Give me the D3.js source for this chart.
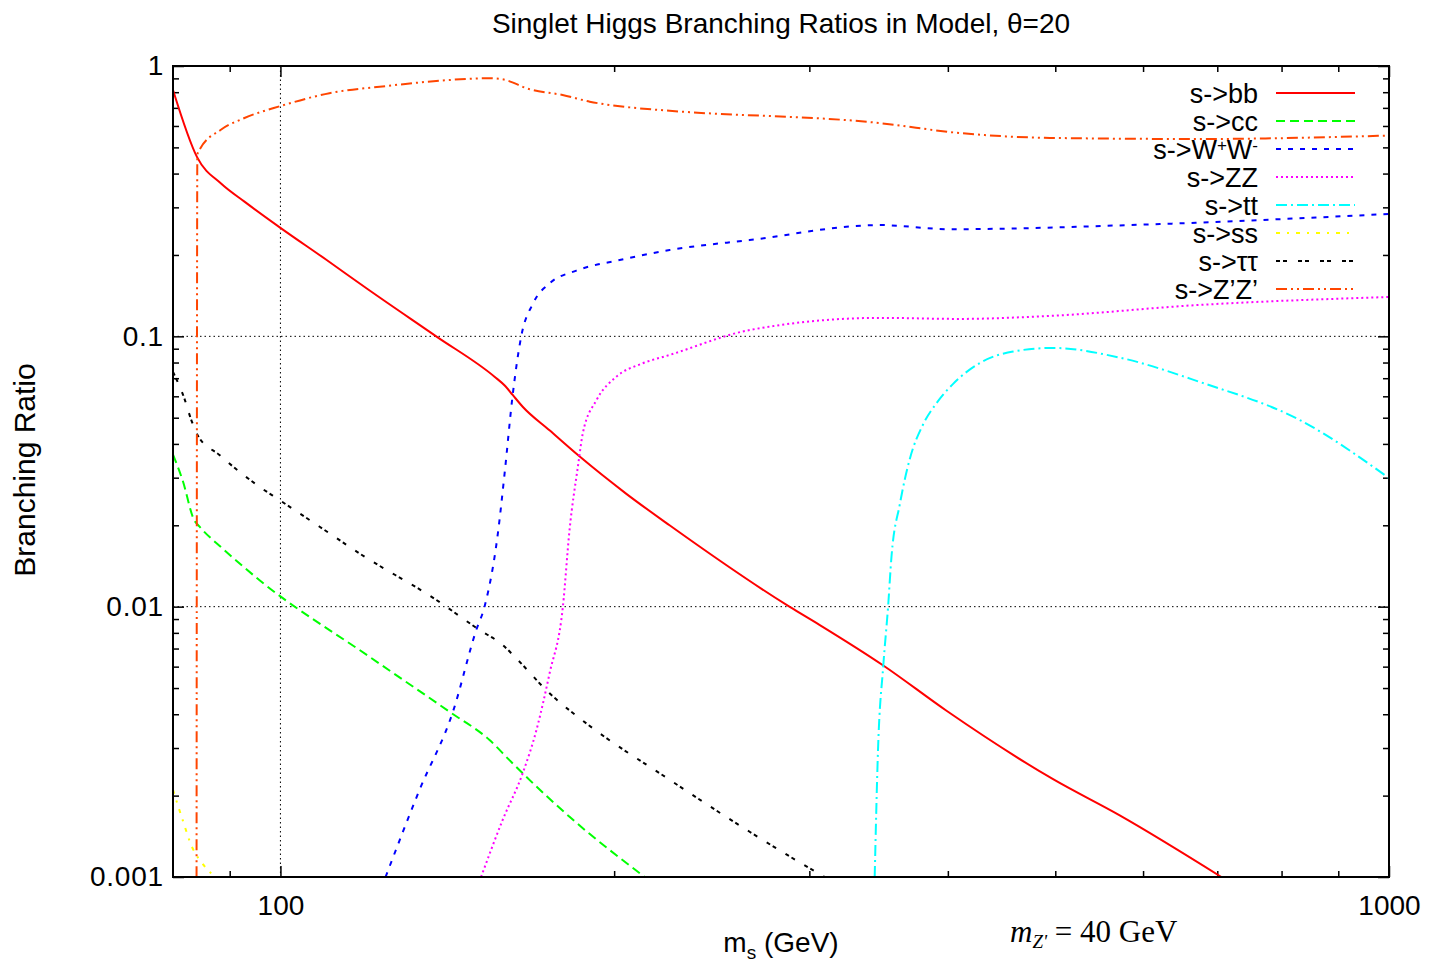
<!DOCTYPE html>
<html><head><meta charset="utf-8">
<script src="https://cdn.jsdelivr.net/npm/d3@7"></script>
<style>body{margin:0;background:#fff}svg{display:block}</style>
</head><body><svg id="c" width="1431" height="965"></svg>
<script>
// ---------- data ----------
const xTickValues = [100, 1000];
const xTickLabels = ["100", "1000"];
const xMinorTicks = [90, 200, 300, 400, 500, 600, 700, 800, 900];
const yTickValues = [0.001, 0.01, 0.1, 1];
const yTickLabels = ["0.001", "0.01", "0.1", "1"];
const yMinorTicks = [2,3,4,5,6,7,8,9].flatMap(k => [k*0.001, k*0.01, k*0.1]);
const seriesLabels = ["s->bb", "s->cc", "s->W+W-", "s->ZZ", "s->tt", "s->ss", "s->ττ", "s->Z’Z’"];

const bb = [[80,0.815],[84.1,0.46],[88.5,0.366],[92.8,0.315],[100,0.252],[110,0.192],[120,0.149],[138.2,0.1],[156,0.0709],[159.5,0.0655],[162,0.0607],[165.4,0.0549],[175,0.0448],[186.2,0.0359],[205,0.0262],[224.4,0.02],[287.8,0.01],[306.6,0.00855],[349.8,0.00606],[398.9,0.00412],[497.7,0.0023],[571.6,0.00169],[706,0.001]];
const cc = [[80,0.0365],[81.6,0.0294],[83.6,0.0209],[84.5,0.0198],[88.7,0.0164],[95.7,0.01255],[120.3,0.00653],[142,0.00409],[154.4,0.00321],[161,0.0027],[166.6,0.00235],[182.3,0.00167],[213.1,0.001]];
const ww = [[124.4,0.001],[133.5,0.0021],[143.1,0.00409],[150.2,0.0082],[152.8,0.01],[157.1,0.0187],[159.3,0.0311],[162,0.0607],[164.9,0.1],[169,0.1324],[174.9,0.157],[184.9,0.175],[202.3,0.1915],[224.4,0.2086],[265,0.227],[347.2,0.258],[401.6,0.249],[583.8,0.258],[1000,0.2835]];
const zz = [[151.7,0.001],[158.7,0.00163],[165.4,0.00242],[170.2,0.0035],[174.9,0.00567],[179.8,0.01],[182.3,0.0192],[185.5,0.033],[187.4,0.0438],[192.8,0.0581],[200.9,0.0709],[212.3,0.0795],[224.4,0.0853],[265,0.1055],[347.2,0.117],[410,0.116],[494,0.119],[671,0.1305],[1000,0.1398]];
const tt = [[343.6,0.001],[346,0.00297],[349.8,0.00606],[353.3,0.01],[355.8,0.0153],[362,0.0239],[369.6,0.0352],[380,0.0473],[390.7,0.0566],[404.4,0.0667],[427.5,0.0797],[458.1,0.0879],[497.7,0.0906],[571.6,0.0834],[675,0.0678],[831,0.049],[1000,0.0299]];
const ss = [[80,0.0021],[81.6,0.00163],[83.3,0.00128],[84.5,0.00116],[86.6,0.00103],[88,0.00095]];
const tautau = [[80,0.0738],[81.9,0.059],[83.1,0.049],[84.2,0.0431],[88.1,0.0364],[91.8,0.0316],[95.7,0.0278],[99.8,0.0248],[108.4,0.0198],[117.8,0.01575],[138.2,0.0106],[151.2,0.0082],[158.7,0.00721],[163.2,0.00644],[174.9,0.00478],[188.8,0.0037],[224.4,0.00229],[265,0.00147],[302.2,0.00106],[309.7,0.001]];
const zpzp = [[84.0,0.0005],[84.15,0.47],[84.5,0.489],[88.3,0.58],[92.8,0.642],[100,0.711],[110.7,0.793],[124.6,0.843],[138.2,0.88],[154.4,0.901],[158.6,0.893],[167.8,0.82],[179.7,0.781],[190.1,0.738],[206.6,0.703],[224.4,0.683],[347.2,0.615],[410,0.565],[494.3,0.542],[675,0.537],[1000,0.553]];

// ---------- layout ----------
const L = 173, R = 1389, T = 66, B = 877;
const FONT = "'Liberation Sans', Arial, Helvetica, sans-serif";
const svg = d3.select("#c");
const x = d3.scaleLog().domain([80, 1000]).range([L, R]);
const y = d3.scaleLog().domain([0.001, 1]).range([B, T]);

const styles = [
  {data: bb, color: "#ff0000", dash: null},
  {data: cc, color: "#00ff00", dash: "9,5"},
  {data: ww, color: "#0000ff", dash: "5,7"},
  {data: zz, color: "#ff00ff", dash: "2,3"},
  {data: tt, color: "#00ffff", dash: "11,4,2,4"},
  {data: ss, color: "#ffff00", dash: "4,7,2,7"},
  {data: tautau, color: "#000000", dash: "4,3,4,11"},
  {data: zpzp, color: "#ff4500", dash: "11,4,2,4,2,4"}
];

svg.append("defs").append("clipPath").attr("id","clip")
  .append("rect").attr("x",L).attr("y",T).attr("width",R-L).attr("height",B-T);

// grid
const grid = svg.append("g").attr("stroke","#000").attr("stroke-width",1).attr("stroke-dasharray","1.5,3");
[100].forEach(v => grid.append("line").attr("x1",x(v)).attr("x2",x(v)).attr("y1",T).attr("y2",B));
[0.1, 0.01].forEach(v => grid.append("line").attr("x1",L).attr("x2",R).attr("y1",y(v)).attr("y2",y(v)));

// axes (ticks inward)
function styleAxis(g){
  g.select(".domain").remove();
  g.selectAll("line").attr("stroke","#000").attr("stroke-width",1.5);
  g.selectAll("text").attr("font-family",FONT).attr("font-size",28).attr("fill","#000");
}
const fmtX = d => xTickLabels[xTickValues.indexOf(d)];
const fmtY = d => yTickLabels[yTickValues.indexOf(d)];

svg.append("g").attr("transform",`translate(0,${B})`)
  .call(d3.axisBottom(x).tickValues(xTickValues).tickFormat(fmtX).tickSizeInner(-11).tickSizeOuter(0).tickPadding(18))
  .call(styleAxis).call(g=>g.selectAll("text").attr("y",18));
svg.append("g").attr("transform",`translate(0,${B})`)
  .call(d3.axisBottom(x).tickValues(xMinorTicks).tickFormat("").tickSizeInner(-6).tickSizeOuter(0)).call(styleAxis);
svg.append("g").attr("transform",`translate(0,${T})`)
  .call(d3.axisTop(x).tickValues(xTickValues).tickFormat("").tickSizeInner(-11).tickSizeOuter(0)).call(styleAxis);
svg.append("g").attr("transform",`translate(0,${T})`)
  .call(d3.axisTop(x).tickValues(xMinorTicks).tickFormat("").tickSizeInner(-6).tickSizeOuter(0)).call(styleAxis);
svg.append("g").attr("transform",`translate(${L},0)`)
  .call(d3.axisLeft(y).tickValues(yTickValues).tickFormat(fmtY).tickSizeInner(-11).tickSizeOuter(0).tickPadding(9))
  .call(styleAxis).call(g=>g.selectAll("text").attr("x",-9).attr("letter-spacing",0.8));
svg.append("g").attr("transform",`translate(${L},0)`)
  .call(d3.axisLeft(y).tickValues(yMinorTicks).tickFormat("").tickSizeInner(-6).tickSizeOuter(0)).call(styleAxis);
svg.append("g").attr("transform",`translate(${R},0)`)
  .call(d3.axisRight(y).tickValues(yTickValues).tickFormat("").tickSizeInner(-11).tickSizeOuter(0)).call(styleAxis);
svg.append("g").attr("transform",`translate(${R},0)`)
  .call(d3.axisRight(y).tickValues(yMinorTicks).tickFormat("").tickSizeInner(-6).tickSizeOuter(0)).call(styleAxis);

// curves
const line = d3.line().x(d => x(d[0])).y(d => y(d[1])).curve(d3.curveMonotoneX);
const curves = svg.append("g").attr("clip-path","url(#clip)");
styles.forEach(s => {
  curves.append("path").attr("d", line(s.data)).attr("fill","none")
    .attr("stroke", s.color).attr("stroke-width", 2)
    .attr("stroke-dasharray", s.dash);
});

// frame
svg.append("rect").attr("x",L).attr("y",T).attr("width",R-L).attr("height",B-T)
  .attr("fill","none").attr("stroke","#000").attr("stroke-width",2);

// legend
const leg = svg.append("g");
styles.forEach((s,i) => {
  const yy = 93 + i*28;
  const t = leg.append("text").attr("x",1258).attr("y",yy).attr("dy","0.36em")
    .attr("text-anchor","end").attr("font-family",FONT).attr("font-size",27).attr("fill","#000");
  if (i === 2) {
    t.append("tspan").text("s->W");
    t.append("tspan").attr("font-size",17).attr("dy",-8).text("+");
    t.append("tspan").attr("dy",8).text("W");
    t.append("tspan").attr("font-size",17).attr("dy",-8).text("-");
  } else {
    t.text(seriesLabels[i]);
  }
  leg.append("line").attr("x1",1276).attr("x2",1355).attr("y1",yy).attr("y2",yy)
    .attr("stroke",s.color).attr("stroke-width",2).attr("stroke-dasharray",s.dash);
});

// titles
svg.append("text").attr("x",781).attr("y",33).attr("text-anchor","middle")
  .attr("font-family",FONT).attr("font-size",28).text("Singlet Higgs Branching Ratios in Model, θ=20");
const xl = svg.append("text").attr("x",781).attr("y",952).attr("text-anchor","middle")
  .attr("font-family",FONT).attr("font-size",28);
xl.append("tspan").text("m");
xl.append("tspan").attr("font-size",19).attr("dy",7).text("s");
xl.append("tspan").attr("dy",-7).text(" (GeV)");
svg.append("text").attr("transform","translate(35,470) rotate(-90)").attr("text-anchor","middle")
  .attr("font-family",FONT).attr("font-size",30).text("Branching Ratio");

// annotation
const an = svg.append("text").attr("x",1010).attr("y",942)
  .attr("font-family","'Liberation Serif', 'Times New Roman', serif").attr("font-size",31);
an.append("tspan").attr("font-style","italic").text("m");
an.append("tspan").attr("font-style","italic").attr("font-size",19).attr("dy",6).text("Z'");
an.append("tspan").attr("dy",-6).text(" = 40 GeV");
</script></body></html>
